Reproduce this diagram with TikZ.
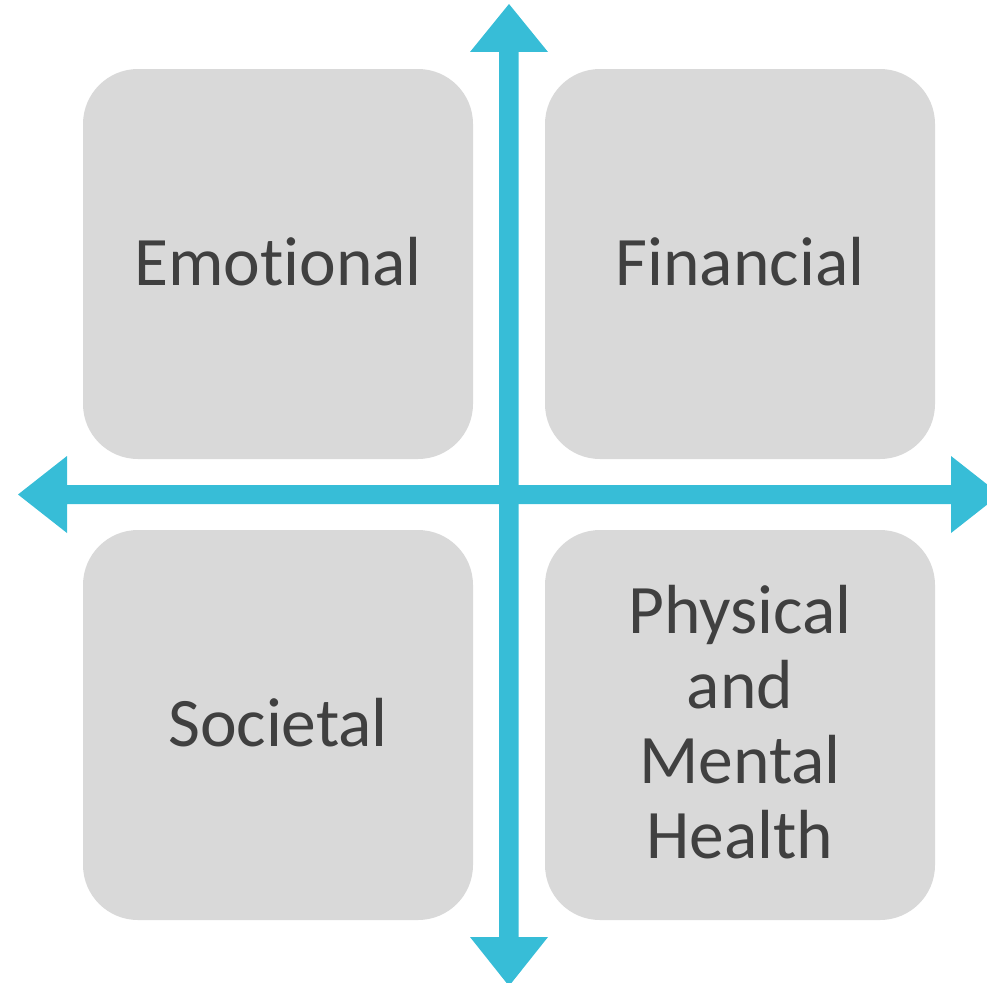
\documentclass[tikz,border=0pt]{standalone}
\usepackage{fontspec}
\setmainfont[Ligatures=NoCommon]{Carlito}
\definecolor{boxgray}{HTML}{D9D9D9}
\definecolor{arrowblue}{HTML}{37BDD7}
\definecolor{textgray}{HTML}{404040}
\begin{document}
\begin{tikzpicture}[x=1pt,y=-1pt,
  quad/.style={fill=boxgray,rounded corners=55pt,minimum width=390pt,minimum height=390pt,draw=none},
  lbl/.style={text=textgray,font=\fontsize{69.5}{75}\selectfont,align=center},
  axis/.style={draw=none,fill=arrowblue}]
\useasboundingbox (0,0) rectangle (987,982);
\clip (0,0) rectangle (987,982);
% boxes
\node[quad] (emo) at (278,264) {};
\node[quad] (fin) at (740,264) {};
\node[quad] (soc) at (278,725) {};
\node[quad] (phy) at (740,725) {};
\node[lbl] (temo) at (278,262) {Emotional};
\node[lbl] (tfin) at (740,262) {Financial};
\node[lbl] (tsoc) at (278,723) {Societal};
\node[lbl] (tphy) at (740,722) {Physical\\and\\Mental\\Health};
% vertical double arrow
\fill[axis] (499,52) -- (470,52) -- (509,4) -- (548,52) -- (518.5,52) -- (518.5,937) -- (548,937) -- (509,986) -- (470,937) -- (499,937) -- cycle;
% horizontal double arrow
\fill[axis] (67,485) -- (67,456) -- (18,494.5) -- (67,533) -- (67,504) -- (951,504) -- (951,533) -- (1000,494.5) -- (951,456) -- (951,485) -- cycle;
\end{tikzpicture}
\end{document}
